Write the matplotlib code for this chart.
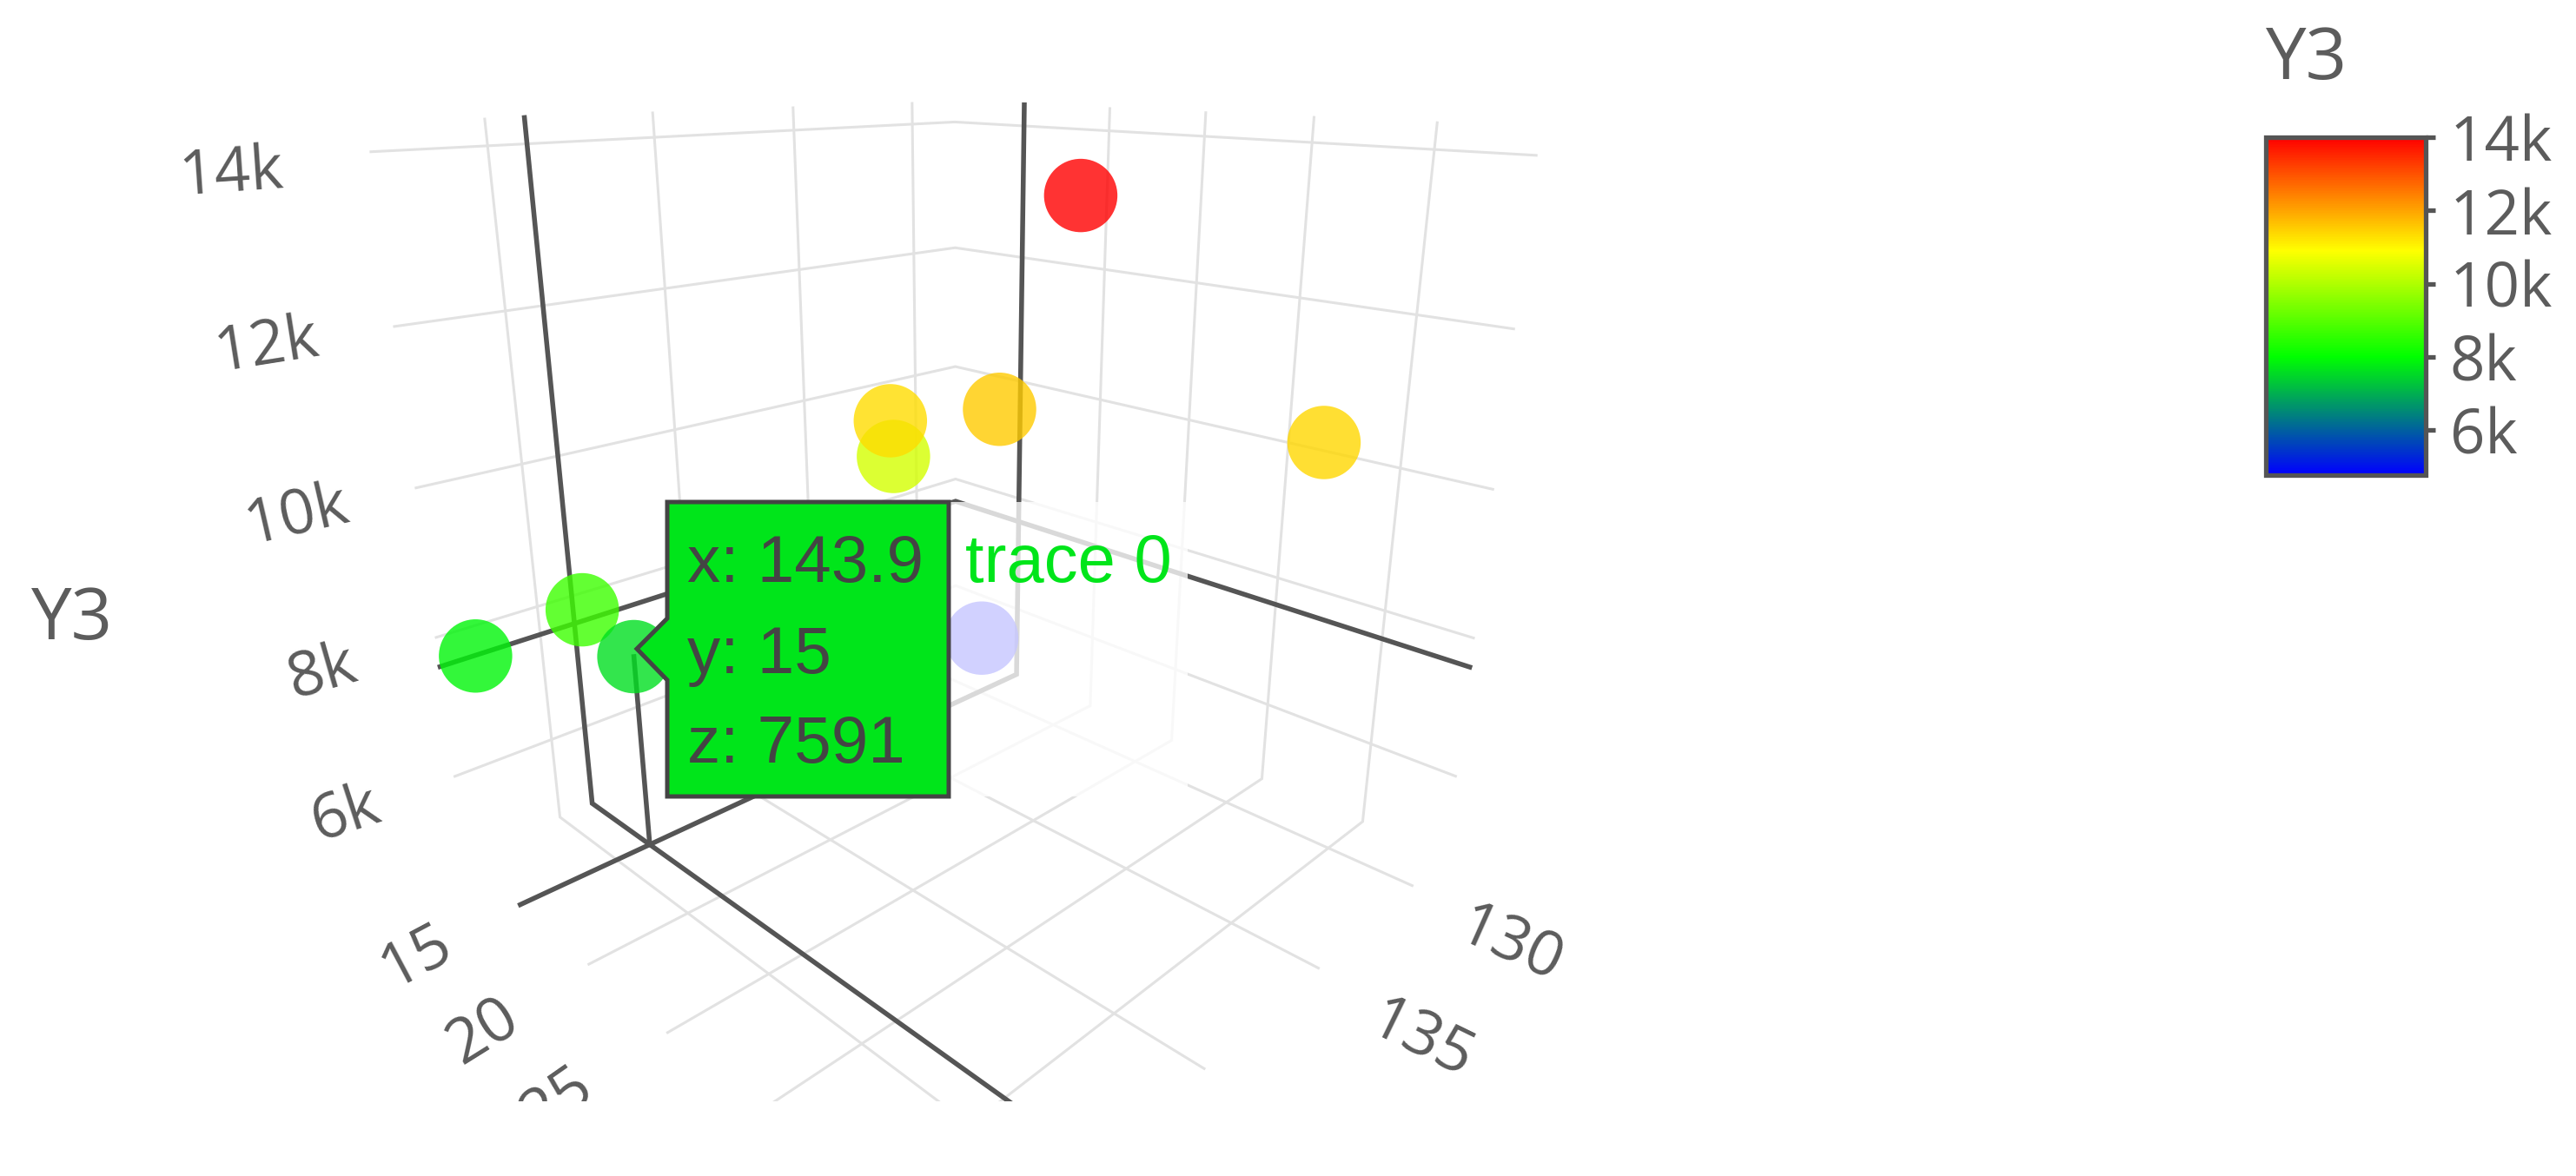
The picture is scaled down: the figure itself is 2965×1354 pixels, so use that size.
import numpy as np
import matplotlib
matplotlib.use("Agg")
import matplotlib.pyplot as plt
from matplotlib.cm import ScalarMappable
from matplotlib.colors import LinearSegmentedColormap, Normalize
from matplotlib.patches import Polygon, Rectangle
from matplotlib.ticker import FuncFormatter

W, H = 2965, 1354

# data, points listed back to front
x_vals = [143.2, 136.4, 140.3, 139.1, 141.5, 147.6, 145.9, 143.9, 126.7]
y_vals = [36.3, 38.2, 29.8, 22.9, 26.5, 12.5, 16.5, 15.0, 10.7]
z_vals = [14000, 11370, 11530, 10400, 11300, 7900, 8690, 7591, 4800]

# hovered point
hover_x, hover_y, hover_z = 143.9, 15, 7591
hover_lines = ["x: 143.9", "y: 15", "z: 7591"]
hover_name = "trace 0"

# axis ranges and ticks
x_min, x_max = 128, 148
y_min, y_max = 10.5, 38.7
z_min, z_max = 4767, 14310
c_min, c_max = 4767, 14000
x_ticks = [130, 135, 140, 145]
y_ticks = [15, 20, 25, 30, 35]
z_ticks = [6000, 8000, 10000, 12000, 14000]
x_labels_shown = [130, 135, 140]
y_labels_shown = [15, 20, 25]

# camera: data (x, y, z/1000, 1) -> image pixels
camera = np.array([
    [-12.502108, 1.758029, -5.070037, 1997.437975],
    [-0.265888, -0.147766, -24.0063, 415.71187],
    [-0.004599, -0.003214, -0.004571, 1.0],
])


def proj(x, y, z):
    h = camera @ np.array([x, y, z / 1000, 1.0])
    return h[0] / h[2], h[1] / h[2]


def line3d(ax, pts, **kw):
    q = np.array([proj(*p) for p in pts])
    ax.plot(q[:, 0], q[:, 1], solid_joinstyle='miter', **kw)


cmap = LinearSegmentedColormap.from_list(
    'y3', [(0, '#0000ff'), (0.35, '#00ff00'), (0.665, '#ffff00'), (1, '#ff0000')])
norm = Normalize(c_min, c_max)

fig = plt.figure(figsize=(W / 100, H / 100), dpi=100)
ax = fig.add_axes([0, 0, 1, 1])
ax.set_xlim(0, W)
ax.set_ylim(H, 0)
ax.axis('off')

# grid on the two back walls and the floor
grid = dict(color='#e2e2e2', lw=2.2, zorder=1)
for z in z_ticks:
    line3d(ax, [(x_max, y_min, z), (x_min, y_min, z), (x_min, y_max, z)], **grid)
for x in x_ticks:
    line3d(ax, [(x, y_min, z_max), (x, y_min, z_min), (x, y_max, z_min)], **grid)
for y in y_ticks:
    line3d(ax, [(x_min, y, z_max), (x_min, y, z_min), (x_max, y, z_min)], **grid)

# hover spikes
spike = dict(color='#555555', lw=4, zorder=2)
line3d(ax, [(hover_x, y_min, z_max), (hover_x, y_min, z_min), (hover_x, y_max, z_min)], **spike)
line3d(ax, [(x_min, hover_y, z_max), (x_min, hover_y, z_min), (x_max, hover_y, z_min)], **spike)
line3d(ax, [(x_max, y_min, hover_z), (x_min, y_min, hover_z), (x_min, y_max, hover_z)], **spike)
line3d(ax, [(hover_x, hover_y, z_min), (hover_x, hover_y, hover_z)], **spike)

# markers
pts = np.array([proj(a, b, c) for a, b, c in zip(x_vals, y_vals, z_vals)])
ax.scatter(pts[:, 0], pts[:, 1], c=z_vals, cmap=cmap, norm=norm, s=3700, alpha=0.8,
           linewidths=0, zorder=3)

# tick labels
tick_font = dict(family='Open Sans', color='#5c5c5c', fontsize=52, ha='center', va='center',
                 rotation_mode='anchor', zorder=4)
z_off = [(-125, 45), (-131, 42), (-137, 33), (-147, 23), (-161, 26)]
z_rot = [18, 16, 13, 9, 4]
for z, off, rot in zip(z_ticks, z_off, z_rot):
    u, v = proj(x_max, y_min, z)
    ax.text(u + off[0], v + off[1], '%dk' % (z / 1000), rotation=rot, **tick_font)
y_off = [(-120, 60), (-122, 78), (-126, 80)]
y_rot = [28, 32, 35]
for y, off, rot in zip(y_labels_shown, y_off, y_rot):
    u, v = proj(x_max, y, z_min)
    ax.text(u + off[0], v + off[1], str(y), rotation=rot, **tick_font)
x_off = [(112, 69), (118, 83), (123, 98)]
x_rot = [-24, -26, -28]
for x, off, rot in zip(x_labels_shown, x_off, x_rot):
    u, v = proj(x, y_max, z_min)
    ax.text(u + off[0], v + off[1], str(x), rotation=rot, **tick_font)
ax.text(83, 715, 'Y3', family='Open Sans', color='#5c5c5c', fontsize=60, ha='center', va='center',
        zorder=4)

# the plot stops here in the source picture
ax.add_patch(Rectangle((0, 1268), W, H - 1268, fc='white', ec='none', zorder=5))

# hover label: name box is see-through white, value box has an arrow to the point
ax.add_patch(Rectangle((1092, 578), 275, 339, fc='white', ec='none', alpha=0.78, zorder=6))
tip_u, tip_v = 733, 747
box = [(768, 578), (1092, 578), (1092, 917), (768, 917), (768, 783), (tip_u, tip_v), (768, 712)]
ax.add_patch(Polygon(box, closed=True, fc='#00e51a', ec='#444444', lw=3.6, joinstyle='miter', zorder=7))
for line, base in zip(hover_lines, [670, 775, 878]):
    ax.text(791, base, line, family='Liberation Sans', color='#444444', fontsize=55, va='baseline',
            zorder=8)
ax.text(1111, 670, hover_name, family='Liberation Sans', color='#00e51a', fontsize=56, va='baseline',
        zorder=8)

# colorbar
cax = fig.add_axes([2608 / W, 1 - 547 / H, (2792 - 2608) / W, (547 - 158) / H])
cb = fig.colorbar(ScalarMappable(norm=norm, cmap=cmap), cax=cax, ticks=z_ticks,
                  format=FuncFormatter(lambda v, _: '%dk' % (v / 1000)))
cb.outline.set_edgecolor('#555555')
cb.outline.set_linewidth(3.8)
cax.tick_params(length=8, width=3.8, color='#555555', pad=12, labelsize=51, labelcolor='#5c5c5c')
for t in cax.get_yticklabels():
    t.set_family('Open Sans')
fig.text(2608 / W, 1 - 91 / H, 'Y3', family='Open Sans', color='#5c5c5c', fontsize=60, va='baseline')

fig.savefig('out.png', dpi=100)
